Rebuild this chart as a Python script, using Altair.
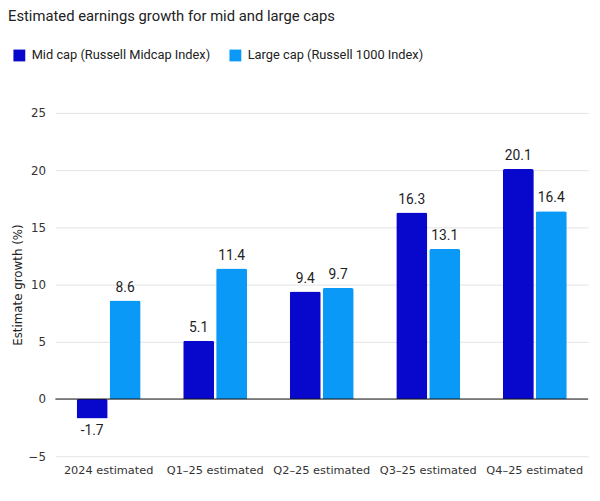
import altair as alt
import pandas as pd

categories = ["2024 estimated", "Q1–25 estimated", "Q2–25 estimated", "Q3–25 estimated", "Q4–25 estimated"]
series = ["Mid cap (Russell Midcap Index)", "Large cap (Russell 1000 Index)"]
mid_values = [-1.7, 5.1, 9.4, 16.3, 20.1]
large_values = [8.6, 11.4, 9.7, 13.1, 16.4]
colors = ["#0808CC", "#0A99F7"]
y_ticks = [-5, 0, 5, 10, 15, 20, 25]

rows = []
for c, m, l in zip(categories, mid_values, large_values):
    rows.append({"cat": c, "series": series[0], "value": m, "label": f"{m:.1f}"})
    rows.append({"cat": c, "series": series[1], "value": l, "label": f"{l:.1f}"})
df = pd.DataFrame(rows)

x_enc = alt.X("cat:N", sort=categories, title=None,
              scale=alt.Scale(paddingInner=0.4, paddingOuter=0.2),
              axis=alt.Axis(labelAngle=0, labelFont="DejaVu Sans", labelFontSize=11.5,
                            labelColor="#333", domain=False, ticks=False, labelPadding=8))
xoff = alt.XOffset("series:N", sort=series, scale=alt.Scale(paddingInner=0.06))
y_scale = alt.Scale(domain=[-5, 25], nice=False)

base = alt.Chart(df)

bars = base.mark_bar(cornerRadiusEnd=2).encode(
    x=x_enc,
    xOffset=xoff,
    y=alt.Y("value:Q", scale=y_scale, title="Estimate growth (%)",
            axis=alt.Axis(values=y_ticks, domain=False, ticks=False, gridColor="#e3e3e3",
                          labelFont="DejaVu Sans", labelFontSize=12, labelColor="#333",
                          labelPadding=10, titleFont="DejaVu Sans", titleFontSize=12,
                          titleFontWeight="normal", titleColor="#222", titlePadding=4)),
    color=alt.Color("series:N", sort=series, scale=alt.Scale(domain=series, range=colors),
                    legend=alt.Legend(title=None, orient="none", direction="horizontal",
                                      legendX=-43, legendY=-65, symbolType="square",
                                      symbolSize=144, symbolStrokeWidth=0,
                                      labelFont="Roboto", labelFontSize=13, labelColor="#222",
                                      labelLimit=400, columnPadding=18, labelOffset=6,
                                      padding=0)),
)

pos_labels = base.transform_filter("datum.value >= 0").mark_text(
    baseline="bottom", dy=-6, font="Roboto", fontSize=14, color="#222"
).encode(x=alt.X("cat:N", sort=categories), xOffset=xoff,
         y=alt.Y("value:Q", scale=y_scale), text="label:N")

neg_labels = base.transform_filter("datum.value < 0").mark_text(
    baseline="top", dy=6, font="Roboto", fontSize=14, color="#222"
).encode(x=alt.X("cat:N", sort=categories), xOffset=xoff,
         y=alt.Y("value:Q", scale=y_scale), text="label:N")

zero = alt.Chart(pd.DataFrame({"z": [0]})).mark_rule(color="#111", strokeWidth=1).encode(
    y=alt.Y("z:Q", scale=y_scale))

chart = alt.layer(bars, zero, pos_labels, neg_labels).properties(
    width=540, height=348,
    autosize=alt.AutoSizeParams(type="none"),
    padding={"left": 48, "top": 103, "right": 4, "bottom": 42},
    title=alt.TitleParams("Estimated earnings growth for mid and large caps", anchor="start",
                          frame="group", dx=-48, offset=25, font="Roboto", fontSize=15,
                          fontWeight="normal", color="#222"),
).configure_view(stroke=None)

chart.save("out.html", embed_options={"renderer": "svg", "actions": False})
